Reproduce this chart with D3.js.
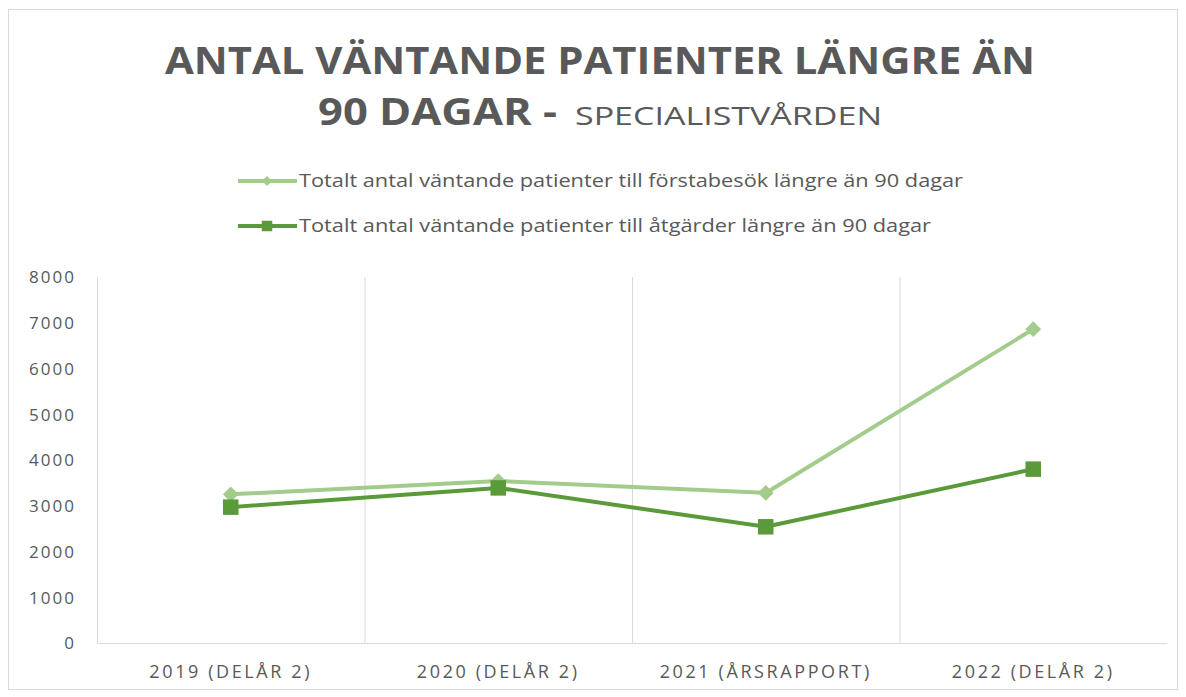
<!DOCTYPE html>
<html><head><meta charset="utf-8">
<script src="https://cdn.jsdelivr.net/npm/d3@7/dist/d3.min.js"></script>
<style>body{margin:0;background:#fff;} text{font-family:"Open Sans",sans-serif;fill:#595959;}</style>
</head><body>
<svg id="c" width="1186" height="697"></svg>
<script>
const categories = ["2019 (DELÅR 2)", "2020 (DELÅR 2)", "2021 (ÅRSRAPPORT)", "2022 (DELÅR 2)"];
const forstabesok = [3250, 3540, 3280, 6860];
const atgarder = [2970, 3390, 2540, 3800];
const yTicks = [0, 1000, 2000, 3000, 4000, 5000, 6000, 7000, 8000];
const seriesNames = ["Totalt antal väntande patienter till förstabesök längre än 90 dagar",
                     "Totalt antal väntande patienter till åtgärder längre än 90 dagar"];

const svg = d3.select("#c");
const light = "#a3cc8c", dark = "#5b9a3a";
const L = 97, R = 1167, T = 277, B = 643;

svg.append("rect").attr("x", 8.5).attr("y", 9.5).attr("width", 1169).attr("height", 680)
  .attr("fill", "none").attr("stroke", "#d9d9d9");

// title
svg.append("text").attr("x", 165).attr("y", 74).attr("font-size", 38).attr("font-weight", 700)
  .attr("textLength", 870).attr("lengthAdjust", "spacingAndGlyphs")
  .text("ANTAL VÄNTANDE PATIENTER LÄNGRE ÄN");
svg.append("text").attr("x", 318).attr("y", 125).attr("font-size", 38).attr("font-weight", 700)
  .attr("textLength", 239).attr("lengthAdjust", "spacingAndGlyphs").text("90 DAGAR -");
svg.append("text").attr("x", 575).attr("y", 125).attr("font-size", 26)
  .attr("textLength", 307).attr("lengthAdjust", "spacingAndGlyphs").text("SPECIALISTVÅRDEN");

const x = d3.scaleBand().domain(categories).range([L, R]).padding(0);
const y = d3.scaleLinear().domain([0, 8000]).range([B, T]);

// grid lines at category boundaries
svg.append("g").selectAll("line").data(categories.slice(1)).join("line")
  .attr("x1", d => x(d) + 0.5).attr("x2", d => x(d) + 0.5).attr("y1", T).attr("y2", B)
  .attr("stroke", "#d9d9d9").attr("stroke-width", 1);

// axes
const yAxis = svg.append("g").attr("transform", `translate(${L},0)`)
  .call(d3.axisLeft(y).tickValues(yTicks).tickSize(0).tickPadding(21).tickFormat(d3.format("d")));
yAxis.select(".domain").attr("stroke", "#d9d9d9");
yAxis.selectAll("text").attr("font-size", 17).style("font-family", "Open Sans")
  .style("letter-spacing", "2px").attr("fill", "#595959").attr("dy", "0.35em");

const xAxis = svg.append("g").attr("transform", `translate(0,${B})`)
  .call(d3.axisBottom(x).tickSize(0).tickPadding(22));
xAxis.select(".domain").attr("stroke", "#d9d9d9");
xAxis.selectAll("text").attr("font-size", 18).style("font-family", "Open Sans")
  .style("letter-spacing", "2.6px").attr("fill", "#595959");

const line = d3.line().x((d, i) => x(categories[i]) + x.bandwidth() / 2).y(d => y(d));

function drawSeries(vals, color, shape, size, rot) {
  svg.append("path").datum(vals).attr("d", line).attr("fill", "none")
    .attr("stroke", color).attr("stroke-width", 4).attr("stroke-linejoin", "round");
  svg.append("g").selectAll("path").data(vals).join("path")
    .attr("transform", (d, i) => `translate(${x(categories[i]) + x.bandwidth() / 2},${y(d)}) rotate(${rot})`)
    .attr("d", d3.symbol().type(shape).size(size)).attr("fill", color);
}
drawSeries(forstabesok, light, d3.symbolSquare, 125, 45);
drawSeries(atgarder, dark, d3.symbolSquare, 240, 0);

// legend
const leg = [{name: seriesNames[0], color: light, size: 50, rot: 45, y: 181, w: 664},
             {name: seriesNames[1], color: dark, size: 110, rot: 0, y: 226, w: 632}];
leg.forEach(l => {
  svg.append("line").attr("x1", 238).attr("x2", 297).attr("y1", l.y).attr("y2", l.y)
    .attr("stroke", l.color).attr("stroke-width", 4);
  svg.append("path").attr("transform", `translate(267,${l.y}) rotate(${l.rot})`)
    .attr("d", d3.symbol().type(d3.symbolSquare).size(l.size)).attr("fill", l.color);
  svg.append("text").attr("x", 299).attr("y", l.y + 6).attr("font-size", 18)
    .attr("textLength", l.w).attr("lengthAdjust", "spacingAndGlyphs").text(l.name);
});
</script>
</body></html>
